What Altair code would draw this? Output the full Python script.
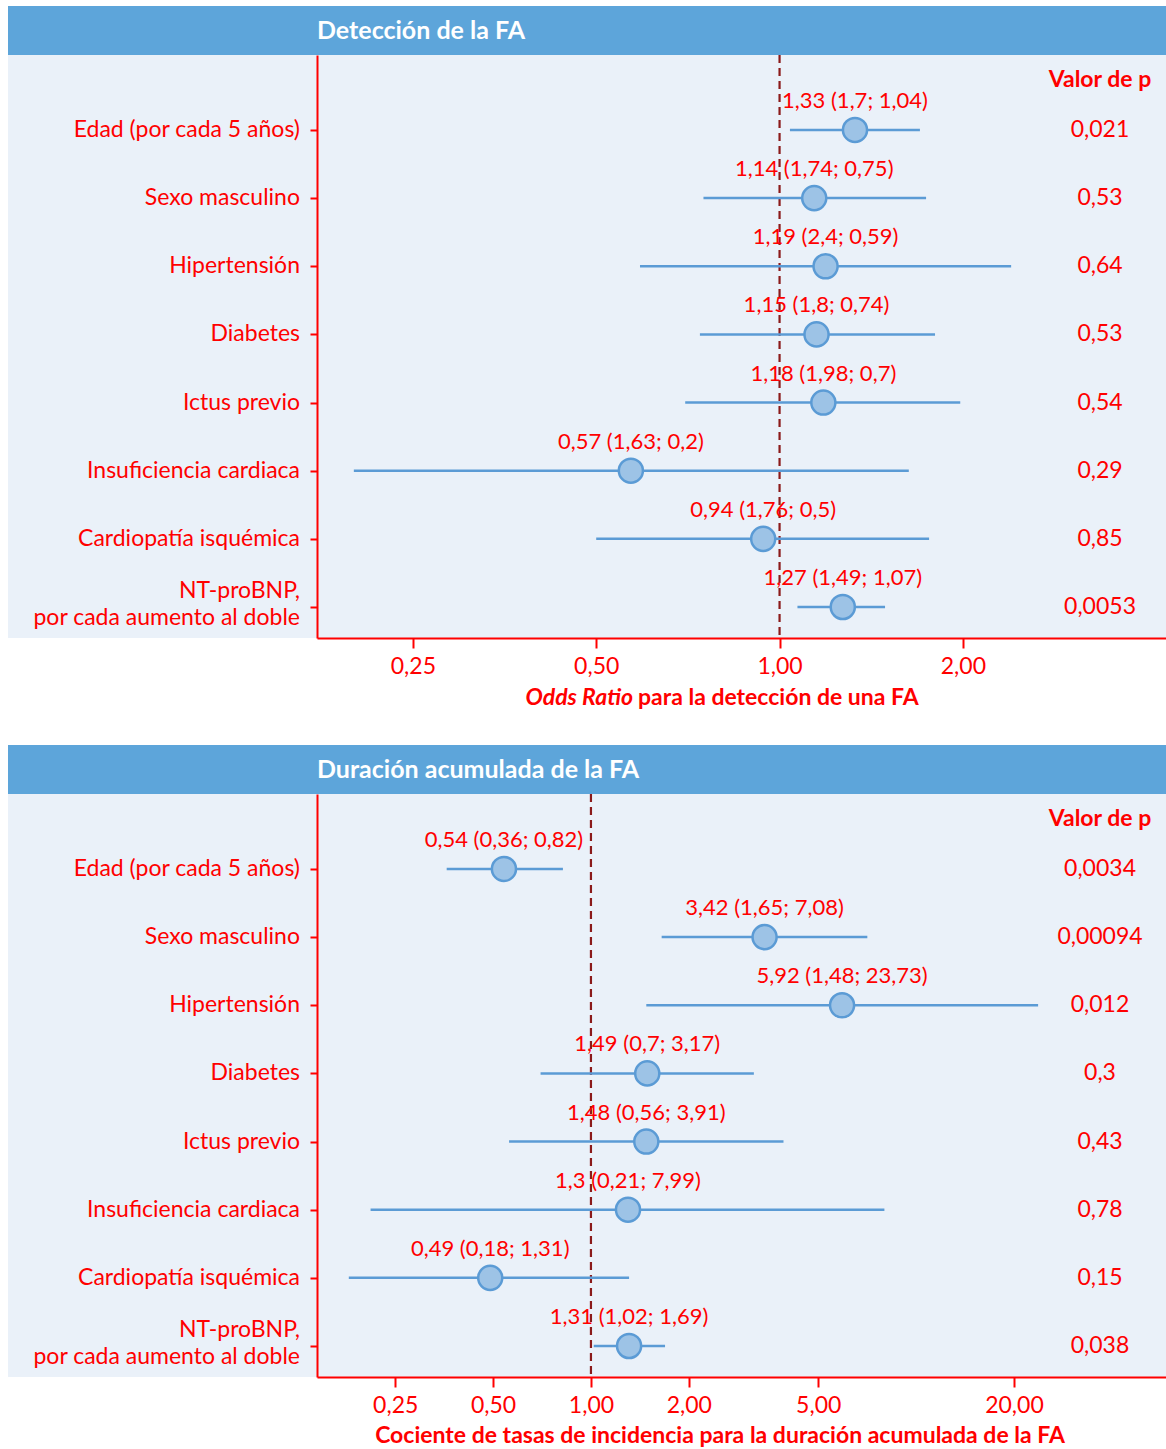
import altair as alt
import pandas as pd

# Rows of the forest plots (top to bottom)
categories = [
    "Edad (por cada 5 años)",
    "Sexo masculino",
    "Hipertensión",
    "Diabetes",
    "Ictus previo",
    "Insuficiencia cardiaca",
    "Cardiopatía isquémica",
    "NT-proBNP,\npor cada aumento al doble",
]

# Odds ratio for AF detection, with its interval bounds and p value
det_or = [1.33, 1.14, 1.19, 1.15, 1.18, 0.57, 0.94, 1.27]
det_hi = [1.7, 1.74, 2.4, 1.8, 1.98, 1.63, 1.76, 1.49]
det_lo = [1.04, 0.75, 0.59, 0.74, 0.7, 0.2, 0.5, 1.07]
det_p = ["0,021", "0,53", "0,64", "0,53", "0,54", "0,29", "0,85", "0,0053"]

# Incidence rate ratio for cumulative AF duration
dur_irr = [0.54, 3.42, 5.92, 1.49, 1.48, 1.3, 0.49, 1.31]
dur_lo = [0.36, 1.65, 1.48, 0.7, 0.56, 0.21, 0.18, 1.02]
dur_hi = [0.82, 7.08, 23.73, 3.17, 3.91, 7.99, 1.31, 1.69]
dur_p = ["0,0034", "0,00094", "0,012", "0,3", "0,43", "0,78", "0,15", "0,038"]

det_ticks = [0.25, 0.5, 1, 2]
dur_ticks = [0.25, 0.5, 1, 2, 5, 20]

FONT = "Lato"
RED = "#FF0000"
HEADER = "#5DA5DA"
BG = "#EAF1F9"
LINE = "#5B9BD5"
DOT = "#9DC3E6"
REF = "#8B1A1A"

W, H = 849, 583
LEFT = 309      # label column to the left of the plot
HEAD = 49       # height of the blue title band
FS = 23         # body text size


def fmt(v):
    return f"{v:g}".replace(".", ",")


def panel(est, lo, hi, pvals, labels, title, ticks, domain, title_layers):
    df = pd.DataFrame({
        "row": list(range(1, 9)),
        "cat": categories,
        "est": est,
        "lo": lo,
        "hi": hi,
        "p": pvals,
        "lab": labels,
    })
    one = pd.DataFrame({"k": [0]})
    xs = alt.Scale(type="log", domain=domain, nice=False)
    ys = alt.Scale(domain=[-0.1, 8.455], reverse=True, nice=False, zero=False)

    xaxis = alt.Axis(
        values=ticks,
        labelExpr="replace(format(datum.value, '.2f'), '.', ',')",
        title=None, grid=False,
        domainColor=RED, domainWidth=2,
        tickColor=RED, tickWidth=2, tickSize=10,
        labelColor=RED, labelFont=FONT, labelFontSize=FS, labelPadding=7,
        labelFlush=False, labelOverlap=False,
        zindex=1,
    )
    yaxis = alt.Axis(
        values=list(range(1, 9)), labels=False, title=None, grid=False,
        domainColor=RED, domainWidth=2,
        tickColor=RED, tickWidth=2, tickSize=7,
        zindex=1,
    )
    X = lambda f: alt.X(f, scale=xs, axis=xaxis)
    Y = lambda f: alt.Y(f, scale=ys, axis=yaxis)

    background = alt.Chart(one).mark_rect(fill=BG).encode(
        x=alt.value(-LEFT), x2=alt.value(W), y=alt.value(0), y2=alt.value(H)
    )
    band = alt.Chart(one).mark_rect(fill=HEADER).encode(
        x=alt.value(-LEFT), x2=alt.value(W), y=alt.value(-HEAD), y2=alt.value(0)
    )
    band_text = alt.Chart(one).mark_text(
        text=title, align="left", baseline="middle", font=FONT,
        fontSize=25, fontWeight="bold", color="white",
    ).encode(x=alt.value(0), y=alt.value(-HEAD / 2))

    ref = alt.Chart(one).mark_rule(color=REF, strokeWidth=2.2, strokeDash=[8, 5]).encode(
        x=alt.datum(1, scale=xs, axis=xaxis), y=alt.value(0), y2=alt.value(H)
    )

    base = alt.Chart(df)
    ci = base.mark_rule(color=LINE, strokeWidth=2.5).encode(
        x=X("lo:Q"), x2="hi:Q", y=Y("row:Q"),
    )
    dots = base.mark_circle(size=580, fill=DOT, stroke=LINE, strokeWidth=2.5, opacity=1).encode(
        x=X("est:Q"), y=Y("row:Q"),
    )
    est_text = base.mark_text(font=FONT, fontSize=22, color=RED, dy=-29, baseline="middle").encode(
        x=X("est:Q"), y=Y("row:Q"), text="lab:N",
    )
    p_text = base.mark_text(font=FONT, fontSize=FS, color=RED, baseline="middle").encode(
        x=alt.value(783), y=Y("row:Q"), text="p:N",
    )
    p_head = alt.Chart(one).mark_text(
        text="Valor de p", font=FONT, fontSize=FS, fontWeight="bold",
        color=RED, baseline="middle",
    ).encode(x=alt.value(783), y=alt.value(25))
    cat_one = base.transform_filter("datum.row < 8").mark_text(
        font=FONT, fontSize=FS, color=RED, align="right", baseline="middle",
    ).encode(x=alt.value(-17), y=Y("row:Q"), text="cat:N")
    cat_two = base.transform_filter("datum.row == 8").mark_text(
        font=FONT, fontSize=FS, color=RED, align="right", baseline="middle",
        lineBreak="\n", lineHeight=27, dy=-16,
    ).encode(x=alt.value(-17), y=Y("row:Q"), text="cat:N")

    return alt.layer(
        background, band, band_text, ref, ci, dots, est_text, p_text, p_head,
        cat_one, cat_two, *title_layers,
    ).properties(width=W, height=H)


one_row = pd.DataFrame({"k": [0]})

det_title = [
    alt.Chart(one_row).mark_text(
        text="Odds Ratio", font=FONT, fontSize=FS, fontWeight="bold",
        fontStyle="italic", color=RED, align="right", baseline="middle",
    ).encode(x=alt.value(316), y=alt.value(H + 60)),
    alt.Chart(one_row).mark_text(
        text="para la detección de una FA", font=FONT, fontSize=FS,
        fontWeight="bold", color=RED, align="left", baseline="middle",
    ).encode(x=alt.value(321), y=alt.value(H + 60)),
]
dur_title = [
    alt.Chart(one_row).mark_text(
        text="Cociente de tasas de incidencia para la duración acumulada de la FA",
        font=FONT, fontSize=FS, fontWeight="bold", color=RED,
        align="center", baseline="middle",
    ).encode(x=alt.value(403), y=alt.value(H + 59)),
]

det_labels = [f"{fmt(o)} ({fmt(h)}; {fmt(l)})" for o, h, l in zip(det_or, det_hi, det_lo)]
dur_labels = [f"{fmt(r)} ({fmt(l)}; {fmt(h)})" for r, l, h in zip(dur_irr, dur_lo, dur_hi)]

p1 = panel(det_or, det_lo, det_hi, det_p, det_labels, "Detección de la FA",
           det_ticks, [0.174, 4.31], det_title)
p2 = panel(dur_irr, dur_lo, dur_hi, dur_p, dur_labels, "Duración acumulada de la FA",
           dur_ticks, [0.1437, 58.7], dur_title)

chart = alt.vconcat(p1, p2, spacing=35).properties(
    padding={"left": 8, "top": 6, "right": 0, "bottom": 4},
    background="white",
).configure_view(stroke=None)

chart.save("out.html", embed_options={"renderer": "svg", "actions": False})
